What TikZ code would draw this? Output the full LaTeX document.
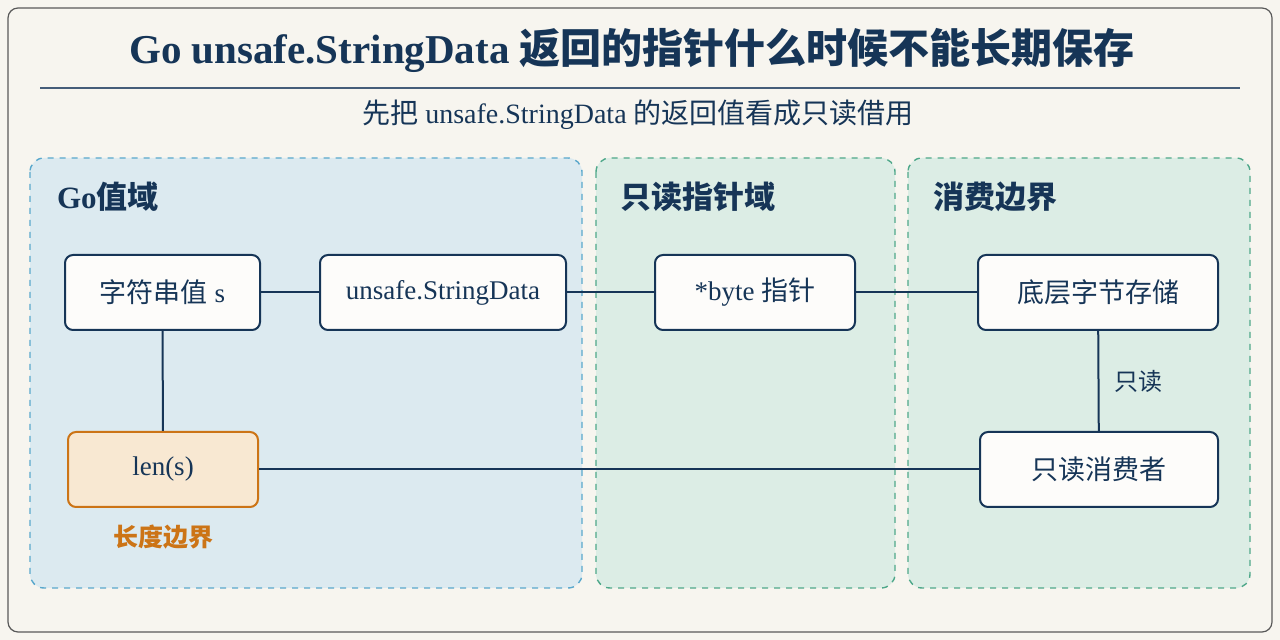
\documentclass[tikz,border=0pt]{standalone}
\usepackage{fontspec}
\setmainfont{Liberation Serif}
\newfontfamily\cjk{Noto Sans CJK SC}
\newcommand{\zh}[1]{{\cjk #1}}
\begin{document}
\begin{tikzpicture}[x=0.5pt,y=-0.5pt,
  navy/.style={draw=nv,line width=1pt},
  box/.style={navy,rounded corners=4pt,fill=white!70!bgc},
  panel/.style={dashed,line width=0.7pt,rounded corners=7pt},
  lbl/.style={font=\fontsize{13.5}{15}\selectfont,text=nv},
  conn/.style={draw=nv,line width=1pt}]
\definecolor{nv}{HTML}{163557}
\definecolor{bgc}{HTML}{F7F5EF}
\definecolor{bl}{HTML}{DCEAF0}
\definecolor{gr}{HTML}{DCEDE5}
\definecolor{bld}{HTML}{5AA8CC}
\definecolor{grd}{HTML}{4FA88A}
\definecolor{og}{HTML}{CC7416}
\definecolor{ogf}{HTML}{F8E8D2}
\useasboundingbox (0,0) rectangle (1280,640);
\fill[bgc] (0,0) rectangle (1280,640);
\draw[gray!70!black,line width=0.6pt,rounded corners=5pt] (8,8) rectangle (1272,632);
\node[font=\fontsize{20.5}{24}\selectfont\bfseries,text=nv] (title) at (632,50) {Go unsafe.StringData \zh{返回的指针什么时候不能长期保存}};
\draw[nv!80,line width=0.6pt] (40,88) -- (1240,88);
\node[font=\fontsize{14}{16}\selectfont,text=nv] (sub) at (638,115) {\zh{先把} unsafe.StringData \zh{的返回值看成只读借用}};
\draw[panel,draw=bld,fill=bl] (30,158) rectangle (582,588);
\draw[panel,draw=grd,fill=gr] (596,158) rectangle (895,588);
\draw[panel,draw=grd,fill=gr] (908,158) rectangle (1250,588);
\node[anchor=west,font=\fontsize{15.5}{18}\selectfont\bfseries,text=nv] (p1) at (50,197) {Go\zh{值域}};
\node[anchor=west,font=\fontsize{15.5}{18}\selectfont\bfseries,text=nv] (p2) at (613,197) {\zh{只读指针域}};
\node[anchor=west,font=\fontsize{15.5}{18}\selectfont\bfseries,text=nv] (p3) at (926,197) {\zh{消费边界}};
\node[box,lbl,minimum width=97.5pt,minimum height=37.5pt] (s) at (162.5,292.5) {\zh{字符串值} s};
\node[box,lbl,minimum width=123pt,minimum height=37.5pt] (sd) at (443,292.5) {unsafe.StringData};
\node[box,lbl,minimum width=100pt,minimum height=37.5pt] (bp) at (755,292.5) {*byte \zh{指针}};
\node[box,lbl,minimum width=120pt,minimum height=37.5pt] (st) at (1098,292.5) {\zh{底层字节存储}};
\node[draw=og,line width=1pt,rounded corners=4pt,fill=ogf,lbl,minimum width=95pt,minimum height=37.5pt] (len) at (163,469.5) {len(s)};
\node[box,lbl,minimum width=119pt,minimum height=37.5pt] (rc) at (1099,469.5) {\zh{只读消费者}};
\node[font=\fontsize{12.5}{14}\selectfont\bfseries,text=og] (lb) at (163,537) {\zh{长度边界}};
\draw[conn] (s) -- (sd);
\draw[conn] (sd) -- (bp);
\draw[conn] (bp) -- (st);
\draw[conn] (s) -- (len);
\draw[conn] (len) -- (rc);
\draw[conn] (st) -- node[right=4pt,lbl,font=\fontsize{12}{14}\selectfont] {\zh{只读}} (rc);
\end{tikzpicture}
\end{document}
